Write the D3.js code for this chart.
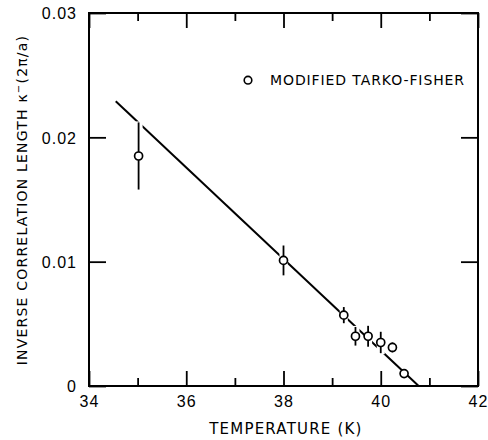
<!DOCTYPE html>
<html>
<head>
<meta charset="utf-8">
<script src="https://cdn.jsdelivr.net/npm/d3@7/dist/d3.min.js"></script>
<style>
  html, body { margin: 0; padding: 0; background: #fff; }
  svg { display: block; font-family: "DejaVu Sans", sans-serif; }
</style>
</head>
<body>
<div id="chart"></div>
<script>
// Measured points (temperature K, inverse correlation length, error half-width)
const temps = [35.02, 38.0, 39.24, 39.48, 39.74, 40.0, 40.24, 40.48]
const kappa = [0.0185, 0.0101, 0.0057, 0.0040, 0.0040, 0.0035, 0.0031, 0.0010]
const kappaErr = [0.0027, 0.0012, 0.00065, 0.00075, 0.00084, 0.00086, 0.0004, 0]

// Fitted straight line (two end points)
const fitT = [34.55, 40.78]
const fitK = [0.0229, 0]

// Axis ticks
const xMajor = [34, 36, 38, 40, 42]
const xMinor = [35, 37, 39, 41]
const yTicks = [0, 0.01, 0.02, 0.03]
const yTickLabels = ["0", "0.01", "0.02", "0.03"]

const legendLabel = "MODIFIED TARKO-FISHER"

const width = 488
const height = 440
const margin = { top: 13, right: 10, bottom: 54, left: 89 }
const innerW = width - margin.left - margin.right
const innerH = height - margin.top - margin.bottom

const svg = d3.select("#chart").append("svg")
  .attr("width", width)
  .attr("height", height)

const g = svg.append("g")
  .attr("transform", `translate(${margin.left},${margin.top})`)

const x = d3.scaleLinear().domain([34, 42]).range([0, innerW])
const y = d3.scaleLinear().domain([0, 0.03]).range([innerH, 0])

// Inward ticks on all four sides
function styleAxis(sel) {
  sel.select(".domain").remove()
  sel.selectAll(".tick line").attr("stroke", "#000").attr("stroke-width", 1.8)
  sel.selectAll(".tick text")
    .attr("fill", "#000")
    .attr("font-size", 16)
    .attr("letter-spacing", 1)
}

g.append("g")
  .attr("transform", `translate(0,${innerH})`)
  .call(d3.axisBottom(x).tickValues(xMajor).tickSize(-15).tickPadding(10).tickFormat(d3.format("d")))
  .call(styleAxis)
g.append("g")
  .attr("transform", `translate(0,${innerH})`)
  .call(d3.axisBottom(x).tickValues(xMinor).tickSize(-8).tickFormat(""))
  .call(styleAxis)
g.append("g")
  .call(d3.axisTop(x).tickValues(xMajor).tickSize(-15).tickFormat(""))
  .call(styleAxis)
g.append("g")
  .call(d3.axisTop(x).tickValues(xMinor).tickSize(-8).tickFormat(""))
  .call(styleAxis)

g.append("g")
  .call(d3.axisLeft(y).tickValues(yTicks).tickSize(-17).tickPadding(12)
    .tickFormat((d, i) => yTickLabels[i]))
  .call(styleAxis)
  .call(s => s.selectAll(".tick text").attr("dy", "0.36em"))
g.append("g")
  .attr("transform", `translate(${innerW},0)`)
  .call(d3.axisRight(y).tickValues(yTicks).tickSize(-17).tickFormat(""))
  .call(styleAxis)

// Frame
g.append("rect")
  .attr("width", innerW)
  .attr("height", innerH)
  .attr("fill", "none")
  .attr("stroke", "#000")
  .attr("stroke-width", 2)

// Fit line
g.append("line")
  .attr("x1", x(fitT[0])).attr("y1", y(fitK[0]))
  .attr("x2", x(fitT[1])).attr("y2", y(fitK[1]))
  .attr("stroke", "#000")
  .attr("stroke-width", 2)

const pts = temps.map((t, i) => ({ t, k: kappa[i], e: kappaErr[i] }))

// Error bars: white halo first so the line looks broken where it crosses
const bars = g.append("g")
bars.selectAll("line.halo")
  .data(pts.filter(d => d.e > 0))
  .enter().append("line")
  .attr("class", "halo")
  .attr("x1", d => x(d.t)).attr("x2", d => x(d.t))
  .attr("y1", d => y(d.k + d.e) - 1).attr("y2", d => y(d.k - d.e) + 1)
  .attr("stroke", "#fff")
  .attr("stroke-width", 8)
bars.selectAll("line.bar")
  .data(pts.filter(d => d.e > 0))
  .enter().append("line")
  .attr("class", "bar")
  .attr("x1", d => x(d.t)).attr("x2", d => x(d.t))
  .attr("y1", d => y(d.k + d.e)).attr("y2", d => y(d.k - d.e))
  .attr("stroke", "#000")
  .attr("stroke-width", 1.8)

// Open circles
g.append("g").selectAll("circle")
  .data(pts)
  .enter().append("circle")
  .attr("cx", d => x(d.t))
  .attr("cy", d => y(d.k))
  .attr("r", 4)
  .attr("fill", "#fff")
  .attr("stroke", "#000")
  .attr("stroke-width", 1.7)

// Legend
const legend = g.append("g")
  .attr("transform", `translate(${x(37.27)},${y(0.0246)})`)
legend.append("circle")
  .attr("r", 3.8)
  .attr("fill", "#fff")
  .attr("stroke", "#000")
  .attr("stroke-width", 1.6)
legend.append("text")
  .attr("x", 22)
  .attr("dy", "0.36em")
  .attr("font-size", 14)
  .attr("letter-spacing", 0.9)
  .attr("fill", "#000")
  .text(legendLabel)

// Axis titles
svg.append("text")
  .attr("x", margin.left + x(38.05))
  .attr("y", 434)
  .attr("text-anchor", "middle")
  .attr("font-size", 15)
  .attr("letter-spacing", 1.2)
  .attr("fill", "#000")
  .text("TEMPERATURE  (K)")

const yTitle = svg.append("text")
  .attr("transform", `translate(27,${margin.top + 187}) rotate(-90)`)
  .attr("text-anchor", "middle")
  .attr("font-size", 14)
  .attr("letter-spacing", 1.2)
  .attr("fill", "#000")
yTitle.append("tspan").text("INVERSE  CORRELATION  LENGTH  \u03ba")
yTitle.append("tspan").attr("dy", -5).attr("font-size", 10).text("\u2212")
yTitle.append("tspan").attr("dy", 5).text("(2\u03c0/a)")
</script>
</body>
</html>
